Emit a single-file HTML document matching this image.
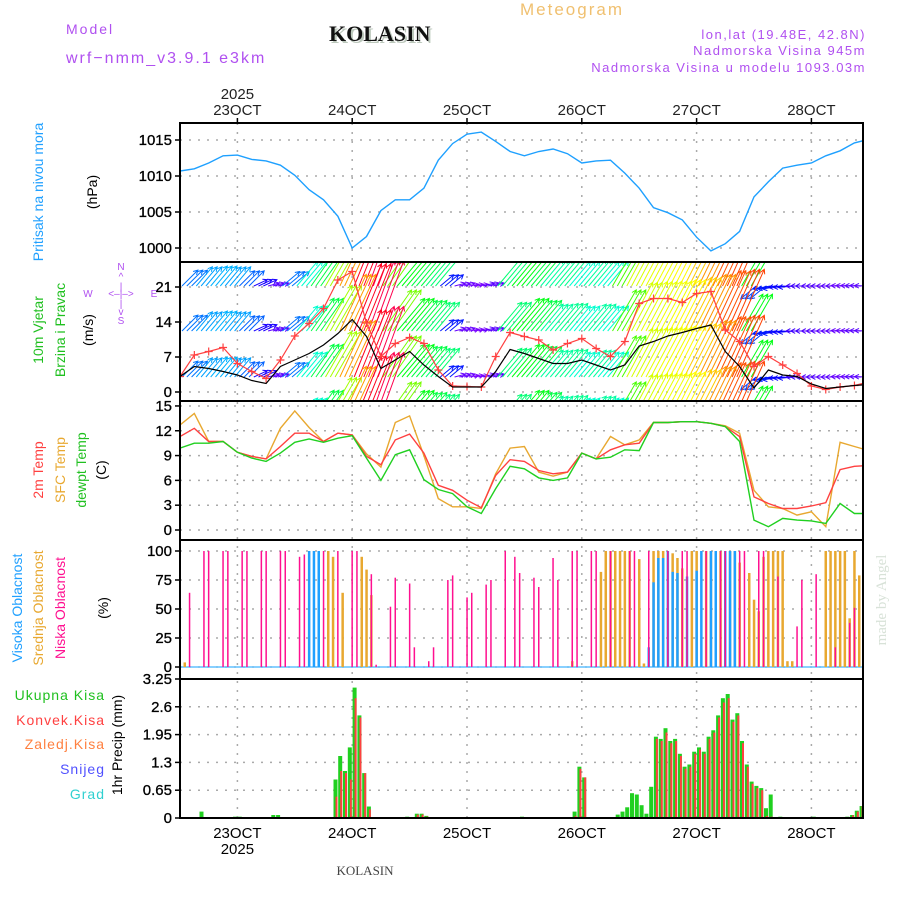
<!DOCTYPE html>
<html><head><meta charset="utf-8"><style>
html,body{margin:0;padding:0;background:#fff}
svg{display:block}
text{font-family:"Liberation Sans",sans-serif}
</style></head><body>
<svg id="c" width="900" height="900" viewBox="0 0 900 900" xmlns="http://www.w3.org/2000/svg">
<defs>
<clipPath id="cp1"><rect x="180" y="123" width="683" height="139"/></clipPath>
<clipPath id="cp2"><rect x="180" y="262" width="683" height="139"/></clipPath>
<clipPath id="cp3"><rect x="180" y="401" width="683" height="139"/></clipPath>
<clipPath id="cp4"><rect x="180" y="540" width="683" height="139"/></clipPath>
<clipPath id="cp5"><rect x="180" y="679" width="683" height="139"/></clipPath>
</defs>
<g>
<text x="66" y="34" font-size="14" fill="#b050f0" letter-spacing="2">Model</text>
<text x="66" y="63" font-size="16" fill="#b050f0" letter-spacing="2">wrf−nmm_v3.9.1 e3km</text>
<text x="331" y="43" font-size="22" font-weight="bold" fill="#bcc8bc" style="font-family:'Liberation Serif',serif">KOLASIN</text>
<text x="329" y="41" font-size="22" font-weight="bold" fill="#111" style="font-family:'Liberation Serif',serif">KOLASIN</text>
<text x="520" y="15" font-size="17" fill="#f0c070" letter-spacing="2">Meteogram</text>
<text x="866" y="39" font-size="13" fill="#b050f0" text-anchor="end" letter-spacing="1.5">lon,lat (19.48E, 42.8N)</text>
<text x="866" y="55" font-size="13" fill="#b050f0" text-anchor="end" letter-spacing="1.5">Nadmorska Visina 945m</text>
<text x="866" y="72" font-size="13" fill="#b050f0" text-anchor="end" letter-spacing="1.5">Nadmorska Visina u modelu 1093.03m</text>
</g>
<g id="grid"></g>
<g id="marks"></g>
<g id="axes"></g>
<g font-size="14">
<text transform="translate(43,192) rotate(-90)" text-anchor="middle" fill="#20a0ff">Pritisak na nivou mora</text>
<text transform="translate(97,192) rotate(-90)" text-anchor="middle" fill="#000">(hPa)</text>
<text transform="translate(43,330) rotate(-90)" text-anchor="middle" fill="#20c020">10m Vjetar</text>
<text transform="translate(65,330) rotate(-90)" text-anchor="middle" fill="#20c020">Brzina i Pravac</text>
<text transform="translate(93,330) rotate(-90)" text-anchor="middle" fill="#000">(m/s)</text>
<g fill="#b050f0" font-size="10">
<text x="121" y="270" text-anchor="middle">N</text><text x="121" y="280" text-anchor="middle">^</text><text x="121" y="290" text-anchor="middle">|</text>
<text x="88" y="297" text-anchor="middle">W</text><text x="121" y="297" text-anchor="middle">&lt;–|–&gt;</text><text x="154" y="297" text-anchor="middle">E</text>
<text x="121" y="307" text-anchor="middle">|</text><text x="121" y="315" text-anchor="middle">v</text><text x="121" y="324" text-anchor="middle">S</text>
</g>
<text transform="translate(43,470) rotate(-90)" text-anchor="middle" fill="#ff4040">2m Temp</text>
<text transform="translate(65,470) rotate(-90)" text-anchor="middle" fill="#e8a830">SFC Temp</text>
<text transform="translate(86,470) rotate(-90)" text-anchor="middle" fill="#20c020">dewpt Temp</text>
<text transform="translate(106,470) rotate(-90)" text-anchor="middle" fill="#000">(C)</text>
<text transform="translate(22,608) rotate(-90)" text-anchor="middle" fill="#20a0ff">Visoka Oblacnost</text>
<text transform="translate(43,608) rotate(-90)" text-anchor="middle" fill="#e8a830">Srednja Oblacnost</text>
<text transform="translate(65,608) rotate(-90)" text-anchor="middle" fill="#ff1090">Niska Oblacnost</text>
<text transform="translate(108,608) rotate(-90)" text-anchor="middle" fill="#000">(%)</text>
<g font-size="14" text-anchor="end" letter-spacing="1">
<text x="105" y="700" fill="#20c020">Ukupna  Kisa</text>
<text x="105" y="725" fill="#ff4040">Konvek.Kisa</text>
<text x="105" y="749" fill="#ff8040">Zaledj.Kisa</text>
<text x="105" y="774" fill="#5050ff">Snijeg</text>
<text x="105" y="799" fill="#30d0d0">Grad</text>
</g>
<text transform="translate(122,745) rotate(-90)" text-anchor="middle" fill="#000">1hr Precip (mm)</text>
<text transform="translate(886,600) rotate(-90)" text-anchor="middle" fill="#d8e2d8" font-size="15" style="font-family:'Liberation Serif',serif">made by Angel</text>
<text x="365" y="875" text-anchor="middle" fill="#444" font-size="13" style="font-family:'Liberation Serif',serif">KOLASIN</text>
</g>
</svg>
<script>
// ---- data (3-hourly from 22OCT 12UTC) ----
const dayLabels = ["23OCT","24OCT","25OCT","26OCT","27OCT","28OCT"];
const pressure = [1010.7,1011.0,1011.8,1012.8,1012.9,1012.3,1012.1,1011.5,1010.1,1008.1,1006.7,1004.4,1000.0,1001.6,1005.2,1006.7,1006.7,1008.3,1012.2,1014.5,1015.8,1016.1,1014.8,1013.4,1012.8,1013.4,1013.75,1013.1,1011.8,1012.1,1012.2,1010.4,1008.3,1005.6,1004.9,1003.9,1001.5,999.6,1000.6,1002.3,1007.1,1009.2,1011.1,1011.5,1011.8,1012.8,1013.5,1014.6,1015.1];
const windSpeed = [3.1,5.1,4.7,4.1,3.4,2.3,1.7,5.1,6.4,7.7,9.4,11.7,14.5,11.1,4.7,6.4,8.1,5.4,3.1,1.0,1.0,1.0,4.1,8.5,7.7,6.7,5.7,5.7,6.4,5.4,4.4,5.4,9.2,10.1,11.2,11.9,12.7,13.4,8.1,5.1,0.8,4.4,3.4,3.1,1.6,0.7,1.0,1.3,1.5];
const windGust = [3.1,7.4,8.1,8.9,5.7,4.1,2.7,6.4,11.2,13.7,16.7,22.4,24.1,13.8,7.1,9.7,10.9,9.7,4.4,1.2,1.1,1.0,7.1,11.9,11.1,10.4,8.4,9.7,10.7,8.7,7.1,10.1,17.7,18.7,18.7,17.9,19.7,20.1,12.4,10.1,5.1,7.1,5.4,3.7,1.2,0.5,1.0,1.3,2.0];
const arrowSpeed = [4.5,5.0,5.2,5.0,4.3,3.0,2.3,4.5,6.5,8,10.5,12.5,14.5,15,10,8.5,8,7.5,3.5,2.2,2.0,2.3,7.5,8.5,8,7,7.2,6.5,7,6.5,9.5,11,11.2,11.3,11.5,12,12.6,13.3,13.5,8.5,4,3.5,3.2,2.6,2.4,2.3,2.2,2.3,2.3];
const arrowDir = [45,50,50,50,45,25,15,40,50,55,60,65,68,70,55,50,50,50,40,15,10,15,50,50,50,50,50,50,50,50,60,62,62,62,63,63,64,65,66,60,220,190,185,180,180,180,178,178,178];
const temp2m = [11.3,12.3,10.7,10.7,9.4,8.9,8.6,10.1,11.7,11.7,10.7,11.7,11.5,8.9,7.9,10.9,11.6,9.3,5.4,4.8,3.6,2.7,6.6,8.5,8.3,7.2,6.8,7.0,9.3,8.6,9.7,10.3,10.5,13.0,13.0,13.1,13.1,12.9,12.5,11.3,4.0,3.2,2.6,2.6,2.9,3.3,7.3,7.7,7.8];
const tempSfc = [12.7,14.1,10.7,10.7,9.4,8.9,8.6,12.3,14.4,12.4,10.7,11.7,11.5,9.2,7.6,13.0,13.8,9.0,3.8,2.8,2.8,2.6,6.8,9.9,10.1,7.0,6.5,7.0,9.3,8.6,11.3,10.3,10.9,13.0,13.0,13.1,13.1,12.9,12.6,11.7,4.8,2.8,2.6,1.8,2.2,0.4,10.6,10.1,9.6];
const tempDew = [9.9,10.5,10.5,10.7,9.4,8.7,8.3,9.3,10.6,11.0,10.6,11.1,11.4,8.7,6.0,9.1,9.7,6.1,4.9,4.4,2.8,2.0,5.0,7.7,7.4,6.3,6.0,6.3,9.3,8.6,8.8,9.7,9.6,13.0,13.0,13.1,13.1,12.9,12.5,10.7,1.2,0.4,1.4,1.2,1.1,0.8,3.2,2.0,2.0];
const lowHours = [2,5,6,9,10,13,14,17,18,21,22,25,26,30,33,36,37,40,41,44,45,48,49,52,53,56,57,60,61,64,65,68,70,71,74,75,78,79,82,83,86,87,90,94,95,98,102,105,106,110,113,114,117,118,121,122,125,129,130,133,137,140,141];
const lowCover = [64,100,100,100,100,100,100,100,100,100,100,95,97,100,100,100,100,80,2,52,77,72,17,5,17,75,79,60,64,71,75,100,95,81,77,69,94,75,100,100,100,100,100,100,100,100,100,100,100,100,100,100,100,100,100,100,78,35,75,80,17,38,51];
const midHours = [1,31,32,34,38,39,40,82,88,89,90,91,92,93,94,96,97,99,100,101,103,104,105,107,108,110,111,112,113,115,116,117,119,120,121,122,123,124,125,126,127,128,135,136,137,138,139,140,141,142];
const midCover = [4,100,95,64,95,84,62,5,82,100,100,100,100,100,100,93,3,100,100,100,98,94,85,100,100,100,100,100,100,100,100,90,81,58,48,95,100,100,100,100,5,5,100,100,100,100,100,42,100,79];
const highHours = [27,28,29,98,99,100,101,102,103,104,106,108,109,111,112,114,115,116];
const highCover = [100,100,100,17,73,94,94,100,82,81,78,83,100,100,100,100,100,100];
const precipHours = [4,11,12,19,20,32,33,34,35,36,37,38,39,47,49,50,51,71,82,83,84,91,92,93,94,95,96,97,98,99,100,101,102,103,104,105,106,107,108,109,110,111,112,113,114,115,116,117,118,119,120,121,122,123,125,132,139,140,141,142];
const precipTotal = [0.15,0.03,0.03,0.07,0.07,0.9,1.45,1.1,1.65,3.05,2.4,1.05,0.27,0.03,0.1,0.1,0.05,0.03,0.15,1.2,0.95,0.08,0.15,0.25,0.58,0.55,0.3,0.1,0.73,1.9,1.85,2.1,1.8,1.85,1.5,1.2,1.25,1.55,1.65,1.55,1.9,2.05,2.4,2.8,2.9,2.3,2.45,1.8,1.25,0.85,0.75,0.7,0.23,0.55,0.03,0.03,0.03,0.07,0.17,0.28];
const precipConv = [0,0,0,0,0,0.5,1.1,1.05,0.9,2.8,2.35,1.05,0.2,0,0.08,0.08,0.03,0.02,0.05,1.15,0.95,0,0,0,0,0,0,0,0,1.85,1.8,2.0,1.75,1.8,1.45,1.15,1.2,1.5,1.6,1.5,1.85,2.0,2.35,2.7,2.8,2.25,2.4,1.75,1.2,0.8,0.7,0.65,0.05,0.03,0,0,0.02,0.06,0.15,0.28];
const pTicks=[1000,1005,1010,1015], wTicks=[0,7,14,21], tTicks=[0,3,6,9,12,15], cTicks=[0,25,50,75,100], rTicks=[0,0.65,1.3,1.95,2.6,3.25];

const NS="http://www.w3.org/2000/svg";
const X0=180, X1=863, PXH=114.8/24;
function xH(h){return X0+h*PXH;}
function yP(p){return 140+(1015-p)*7.2;}
function yW(v){return 392-v*5;}
function yT(t){return 530-t*8.27;}
function yC(c){return 667-c*1.16;}
function yR(r){return 818-r*42.77;}
function mk(tag,attrs,parent){const e=document.createElementNS(NS,tag);for(const k in attrs)e.setAttribute(k,attrs[k]);parent.appendChild(e);return e;}
const grid=document.getElementById('grid'), marks=document.getElementById('marks'), axes=document.getElementById('axes');

function hgrid(ticks,yf,name){ticks.forEach(t=>{const l=mk('line',{x1:X0,x2:X1,y1:yf(t),y2:yf(t),stroke:'#aaa','stroke-width':1.5,'stroke-dasharray':'2,7'},grid);

});}
hgrid(pTicks,yP,'pressure');hgrid(wTicks,yW,'wind');hgrid(tTicks,yT,'temp');hgrid(cTicks,yC,'cloud');hgrid(rTicks.slice(1,5),yR,'precip');
dayLabels.forEach((d,i)=>{const x=xH(12+24*i);const l=mk('line',{x1:x,x2:x,y1:123,y2:818,stroke:'#aaa','stroke-width':1.5,'stroke-dasharray':'2,7'},grid);

});

function line(arr,yf,color,clip,name,w){const pts=arr.map((v,i)=>xH(i*3).toFixed(1)+','+yf(v).toFixed(1)).join(' ');
const p=mk('polyline',{points:pts,fill:'none',stroke:color,'stroke-width':w||1.4,'clip-path':'url(#'+clip+')'},marks);

return p;}
line(pressure,yP,'#1ea0ff','cp1','pressure-line');

const ag=mk('g',{'clip-path':'url(#cp2)'},marks);


[286,331,377,423].forEach(base=>{
 for(let h=0;h<144;h++){const i=Math.floor(h/3);const s=arrowSpeed[i],a=arrowDir[i]*Math.PI/180;
  const L=s*5,x0=xH(h)+2,y0=base,x1=x0+L*Math.cos(a),y1=y0-L*Math.sin(a);
  let hue=312-22*s; if(hue<0)hue+=360;const col='hsl('+hue.toFixed(0)+',100%,50%)';
  const b1=a+Math.PI-0.5,b2=a+Math.PI+0.5;
  const p=mk('path',{d:'M'+x0.toFixed(1)+','+y0+'L'+x1.toFixed(1)+','+y1.toFixed(1)+'M'+(x1+5*Math.cos(b1)).toFixed(1)+','+(y1-5*Math.sin(b1)).toFixed(1)+'L'+x1.toFixed(1)+','+y1.toFixed(1)+'L'+(x1+5*Math.cos(b2)).toFixed(1)+','+(y1-5*Math.sin(b2)).toFixed(1),stroke:col,'stroke-width':1,fill:'none'},ag);
  
  
 }});
line(windGust,yW,'#ff4040','cp2','wind-gust-line',1.2);
const gm=mk('g',{'clip-path':'url(#cp2)',stroke:'#ff4040','stroke-width':1.2},marks);


windGust.forEach((v,i)=>{const x=xH(i*3),y=yW(v);const m=mk('path',{d:'M'+(x-4)+','+y+'h8M'+x+','+(y-4)+'v8'},gm);

});
line(windSpeed,yW,'#000','cp2','wind-speed-line',1.2);

line(tempSfc,yT,'#e8a830','cp3','sfc-temp-line');
line(temp2m,yT,'#ff4040','cp3','temp-2m-line');
line(tempDew,yT,'#20d020','cp3','dewpoint-line');

const cb=mk('line',{x1:X0,x2:X1,y1:667,y2:667,stroke:'#60c0ff','stroke-width':1.5},marks);


function bars(hours,vals,color,w,name){hours.forEach((h,i)=>{const x=xH(h);const r=mk('rect',{x:(x-w/2).toFixed(1),y:yC(vals[i]).toFixed(1),width:w,height:(667-yC(vals[i])).toFixed(1),fill:color},marks);

});}
bars(midHours,midCover,'#e8a830',2.5,'mid-cloud-bar');
bars(highHours,highCover,'#20a0ff',2.5,'high-cloud-bar');
bars(lowHours,lowCover,'#ff1090',1.5,'low-cloud-bar');

precipHours.forEach((h,i)=>{const x=xH(h+0.5);
 const g=mk('rect',{x:(x-2).toFixed(1),y:yR(precipTotal[i]).toFixed(1),width:4,height:(818-yR(precipTotal[i])).toFixed(1),fill:'#20d020'},marks);
 
 
 if(precipConv[i]>0){const r=mk('rect',{x:(x).toFixed(1),y:yR(precipConv[i]).toFixed(1),width:2,height:(818-yR(precipConv[i])).toFixed(1),fill:'#ff4040'},marks);
 
 }
});

[[123,262],[262,401],[401,540],[540,679],[679,818]].forEach((p,i)=>{const r=mk('rect',{x:X0,y:p[0],width:X1-X0,height:p[1]-p[0],fill:'none',stroke:'#000','stroke-width':2},axes);

});
function yt(ticks,yf,name){ticks.forEach(t=>{const y=yf(t);mk('line',{x1:175,x2:180,y1:y,y2:y,stroke:'#000','stroke-width':1.5},axes);
const tx=mk('text',{x:172,y:y+5,'text-anchor':'end','font-size':15,fill:'#000','stroke':'#000','stroke-width':0.3},axes);tx.textContent=t;

});}
yt(pTicks,yP,'pressure');yt(wTicks,yW,'wind');yt(tTicks,yT,'temp');yt(cTicks,yC,'cloud');yt(rTicks,yR,'precip');
dayLabels.forEach((d,i)=>{const x=xH(12+24*i);
 mk('line',{x1:x,x2:x,y1:118,y2:123,stroke:'#000','stroke-width':1.5},axes);
 const t=mk('text',{x:x,y:115,'text-anchor':'middle','font-size':15,fill:'#222'},axes);t.textContent=d;
 
 
 const b=mk('text',{x:x,y:838,'text-anchor':'middle','font-size':15,fill:'#000'},axes);b.textContent=d;
 
 
});
const y1=mk('text',{x:xH(12),y:99,'text-anchor':'middle','font-size':15,fill:'#222'},axes);y1.textContent='2025';


const y2=mk('text',{x:xH(12),y:854,'text-anchor':'middle','font-size':15,fill:'#000'},axes);y2.textContent='2025';


</script>
</body></html>
